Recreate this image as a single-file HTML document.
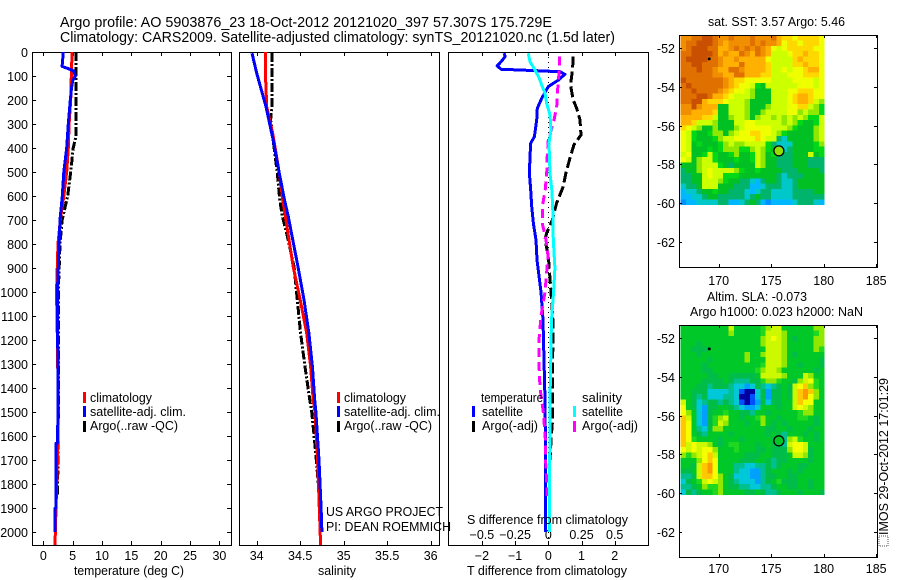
<!DOCTYPE html>
<html lang="en">
<head>
<meta charset="utf-8">
<title>Argo profile chart</title>
<style>
html,body{margin:0;padding:0;background:#fff;}
svg{display:block;}
text{font-family:"Liberation Sans",sans-serif;font-size:12.5px;fill:#000;}
.t{font-size:14.5px;}
</style>
</head>
<body>
<svg id="chart" xmlns="http://www.w3.org/2000/svg" width="900" height="580" viewBox="0 0 900 580">
<rect x="0" y="0" width="900" height="580" fill="#fff"/>
<text class="t" x="60" y="27" textLength="492" lengthAdjust="spacingAndGlyphs">Argo profile: AO 5903876_23 18-Oct-2012 20121020_397 57.307S 175.729E</text>
<text class="t" x="60" y="42" textLength="555" lengthAdjust="spacingAndGlyphs">Climatology: CARS2009. Satellite-adjusted climatology: synTS_20121020.nc (1.5d later)</text>

<g id="marks"></g>

<text x="74" y="575" textLength="110" lengthAdjust="spacingAndGlyphs">temperature (deg C)</text>
<text x="318" y="575" textLength="38" lengthAdjust="spacingAndGlyphs">salinity</text>
<text x="467" y="575" textLength="160" lengthAdjust="spacingAndGlyphs">T difference from climatology</text>
<text x="467" y="524" textLength="161" lengthAdjust="spacingAndGlyphs">S difference from climatology</text>

<text x="90" y="402" textLength="62" lengthAdjust="spacingAndGlyphs">climatology</text>
<text x="90" y="416" textLength="96" lengthAdjust="spacingAndGlyphs">satellite-adj. clim.</text>
<text x="90" y="430" textLength="88" lengthAdjust="spacingAndGlyphs">Argo(..raw -QC)</text>
<text x="344" y="402" textLength="62" lengthAdjust="spacingAndGlyphs">climatology</text>
<text x="344" y="416" textLength="96" lengthAdjust="spacingAndGlyphs">satellite-adj. clim.</text>
<text x="344" y="430" textLength="88" lengthAdjust="spacingAndGlyphs">Argo(..raw -QC)</text>
<text x="481" y="402" textLength="62" lengthAdjust="spacingAndGlyphs">temperature</text>
<text x="482" y="416" textLength="41" lengthAdjust="spacingAndGlyphs">satellite</text>
<text x="482" y="430" textLength="56" lengthAdjust="spacingAndGlyphs">Argo(-adj)</text>
<text x="582" y="402" textLength="40" lengthAdjust="spacingAndGlyphs">salinity</text>
<text x="582" y="416" textLength="41" lengthAdjust="spacingAndGlyphs">satellite</text>
<text x="582" y="430" textLength="56" lengthAdjust="spacingAndGlyphs">Argo(-adj)</text>

<text x="326" y="516" textLength="117" lengthAdjust="spacingAndGlyphs">US ARGO PROJECT</text>
<text x="326" y="531" textLength="125" lengthAdjust="spacingAndGlyphs">PI: DEAN ROEMMICH</text>

<text x="708" y="26" textLength="137" lengthAdjust="spacingAndGlyphs">sat. SST: 3.57 Argo: 5.46</text>
<text x="707" y="301" textLength="100" lengthAdjust="spacingAndGlyphs">Altim. SLA: -0.073</text>
<text x="690" y="316" textLength="173" lengthAdjust="spacingAndGlyphs">Argo h1000: 0.023 h2000: NaN</text>
<text transform="translate(888,535) rotate(-90)" x="0" y="0" textLength="157" lengthAdjust="spacingAndGlyphs">IMOS 29-Oct-2012 17:01:29</text>
<rect x="879" y="536" width="9" height="10" fill="none" stroke="#555" stroke-width="1" stroke-dasharray="1 1"/>
</svg>
<script>
// ---- profile data (depth in metres) ----
const tClimDepth = [0,100,200,300,400,500,600,700,800,1000,1200,1500,1700,1900,2054];
const tClimValue = [4.9,4.77,4.67,4.4,4.26,3.98,3.5,2.9,2.5,2.25,2.4,2.55,2.4,2.16,2.0];
const tSatDepth = [0,50,60,72,80,100,120,150,200,300,400,500,600,700,1000,1400,1500,1630,1631,1900,1901,2000];
const tSatValue = [3.4,3.24,3.2,4.55,5.2,5.46,5.0,4.8,4.6,4.26,3.98,3.5,3.24,2.85,2.4,2.5,2.5,2.4,2.16,2.16,2.0,2.0];
const tArgoDepth = [0,100,200,350,400,500,600,700,800,1000,1500,1700,1850];
const tArgoValue = [5.57,5.57,5.57,5.57,5.1,4.67,4.15,3.2,2.85,2.55,2.55,2.5,2.4];

const sClimDepth = [0,88,228,338,505,617,686,895,1033,1172,1311,1450,1500,1700,1900,2054];
const sClimValue = [34.10,34.10,34.115,34.184,34.26,34.30,34.33,34.42,34.50,34.575,34.62,34.65,34.67,34.70,34.72,34.735];
const sSatDepth = [5,88,228,367,505,617,686,756,895,1033,1172,1311,1450,1500,1700,1900,2000];
const sSatValue = [33.946,34.0,34.107,34.19,34.26,34.32,34.363,34.40,34.475,34.544,34.6,34.64,34.667,34.68,34.716,34.74,34.75];
const sArgoDepth = [5,230,283,505,617,686,756,895,1033,1172,1311,1450,1500,1600,1700,1800,1850];
const sArgoValue = [34.176,34.176,34.16,34.237,34.265,34.295,34.345,34.43,34.467,34.505,34.555,34.61,34.632,34.66,34.685,34.708,34.716];

const dTSatDepth = [5,19,40,58,72,75,82,93,117,144,193,235,283,353,380,436,505,575,644,714,783,867,1000,1117,1450,1700,2000];
const dTSatValue = [-1.33,-1.30,-1.42,-1.54,-1.42,-0.85,0.35,0.50,0.30,0,-0.20,-0.33,-0.35,-0.42,-0.53,-0.55,-0.57,-0.53,-0.50,-0.45,-0.37,-0.34,-0.22,-0.16,-0.10,-0.08,-0.08];
const dTArgoDepth = [19,75,137,200,235,283,346,387,443,505,561,630,700,755,783,850,1000,1120,1400,1530,1620,1700];
const dTArgoValue = [0.75,0.73,0.67,0.75,0.855,0.955,0.985,0.77,0.65,0.53,0.45,0.25,0.12,-0.05,-0.10,0.0,0.08,0.14,0.13,0.13,0.08,0.05];
const dSSatDepth = [5,40,75,110,137,172,214,262,325,380,505,575,644,783,900,1000,1117,1450,2000];
const dSSatValue = [-0.151,-0.138,-0.10,-0.068,-0.05,-0.025,-0.012,0.013,0.02,0.005,0.013,0.026,0.033,0.038,0.05,0.04,0.024,0.013,0.008];
const dSArgoDepth = [19,75,158,228,297,367,436,505,575,644,714,783,850,1000,1100,1200,1300,1400,1500,1554,1617,1700,1800,1850];
const dSArgoValue = [0.083,0.083,0.07,0.063,0.038,0,-0.008,-0.012,-0.023,-0.045,-0.045,-0.017,-0.002,-0.025,-0.055,-0.07,-0.07,-0.0625,-0.038,-0.03,-0.022,-0.02,-0.012,-0.008];

// ---- tick labels ----
const depthTicks = [0,100,200,300,400,500,600,700,800,900,1000,1100,1200,1300,1400,1500,1600,1700,1800,1900,2000];
const tempTicks = [0,5,10,15,20,25,30];
const salTicks = [34,34.5,35,35.5,36];
const dTempTicks = [-2,-1,0,1,2];
const dSalTicks = [-0.5,-0.25,0,0.25,0.5];
const lonTicks = [170,175,180,185];
const latTicks = [-52,-54,-56,-58,-60,-62];

// ---- map data: one letter per cell (index into the palette) ----
const argoLon = 175.729;
const argoLat = -57.307;
const markerLon = 169.1;
const markerLat = -52.55;
const sstPalette = ['#0090ff','#00b8ff','#00c8c8','#00b46c','#00c024','#00d818','#90e800','#ccff00','#f0ff00','#ffd800','#ffb000','#f09000','#e07000','#c85000'];
const slaPalette = ['#0000a0','#0050ff','#00a0ff','#00c8d8','#00c090','#00bc48','#00c828','#20d820','#90e800','#ccf800','#f4ff00','#ffc800','#ff9800'];
const sstRows = [
"llmmnnmll|mlllmlllm|kjjijjjji",
"lmmnnnmlk|llllmlmll|kijjijjji",
"lmnnnmmkk|lmlmlmlki|hijjjjjii",
"mmnnnnmkl|kkmlkmlkh|hhijjkjji",
"mnnnnmmlk|klkkkkkih|hhhjkjjji",
"mmnnmmmlk|kkmkkkkjh|hhhjjkjji",
"mmmnmmlkk|mmlkkkkjh|hihiijkki",
"mmmmmmllk|kmmkkkjjh|hhiiijjji",
"nmmmmmmml|kjjiiiiih|hhhiiiihi",
"mnmmmmmml|kjiihfehh|hhhhiiihi",
"mmnmmmmlk|jiihgeeeh|hhiijjjii",
"mmmnnmkkj|ihhhgeeeh|hhijkkjii",
"mmnnkjjji|hhhgeeeeh|hhijkkjhg",
"llnlkkkee|hhhgeeegh|hhiijjhgf",
"llkkkkjee|hhhgeeghh|hhiighggf",
"kkkkjjhee|ghhgeghhg|hghghgffh",
"kkjhhhgee|ehhiihhhh|hghgfeefh",
"jihgeegee|eghiiiiih|hhgfeeegh",
"ihfeefgge|ghiijjiih|gfeeeeegh",
"ihfeeefgh|hiiiijihh|dceeeeegh",
"ihefeeefg|hgghhhhfd|ccceeeefg",
"iheeefefg|ggffghgfe|dcdeeeeff",
"hieefhfee|fgeefhgef|dddeeehef",
"iheghhfee|efeefhgee|dddeeeddd",
"eeeghhhfe|deeeehgee|dddeeeddd",
"deeghihhh|hgfeefeee|edddeeeed",
"ddeehihhf|ffeeeeeee|dcdddeeee",
"ddeehhhgf|eeddcbdee|dccdeeeee",
"cddehhhee|edddbbcdd|dccdeeeee",
"bccdeefee|dddcbcddc|cccddddee",
"bbccdeedd|dddcdeddc|cccdddddd",
"abbccccdd|bbcdedbab|bbbcdddcb"];
const slaRows = [
"ggggggggg|jggggghij|jggggggii",
"ggggggggg|iggggghjj|jiggggghi",
"ggggggggg|ggggggijk|jigfgggii",
"gggfggggg|ggggggijj|jigggggii",
"ggfffgggg|gggggggjj|jigggggih",
"gggfggggg|gggiggijj|jigfggggg",
"gggggfggg|gggigggjj|jiggggggf",
"ggggfgggg|gggggghjj|jiggfgggf",
"ggggffggg|ggggghijj|iggggggfg",
"gggggffgg|fffffgjjj|jigggjigg",
"ggggffffg|feeeffhii|hggfijkhg",
"gggffefff|eddcdfede|fgfjklihg",
"ggfffdddd|edbaadfcf|fgfjlmlig",
"ggfefddde|edaabdfcf|fgfjlmkig",
"jgfdeffef|edbabcfdf|fggjlkkgg",
"kgfdcffgg|fedccdggg|fggjkjigg",
"kigdcfggh|ggffeggfg|gggghiigg",
"ljgdcfhij|ggfgghigg|fggghhgfg",
"lkgdcfhji|gggfggigf|gfgggggfg",
"lkgedfiig|gggggggff|ggfgggfgg",
"lkgfegggg|fggggggfg|fegggfgfg",
"lkhggggfg|ggfgggggf|feijhggfg",
"ljkjjigfg|hhgggfggf|fejkkjggg",
"kjkjkkigg|ghgggffgf|ffikkjfgg",
"ihijkljgg|gggfffggf|ffgjjifgg",
"gggiklkgg|ggfffggfe|ffggggfgg",
"ggfjlmkgg|geeddeefe|fgggffggg",
"ffgjlmkgg|geddccefg|ggfgfgggg",
"eefjllkig|fdddcceff|ggffggggg",
"dfghjkjig|fedddcefg|hfffggfgg",
"eefgihhig|ffeeddeef|ggffggfgg",
"dfefgghig|gggffgfee|fgggfgggf"];

const NS = 'http://www.w3.org/2000/svg';
const root = document.getElementById('marks');

function shape(tag, attrs, name) {
  const el = document.createElementNS(NS, tag);
  for (const k in attrs) el.setAttribute(k, attrs[k]);
  
  
  root.appendChild(el);
  return el;
}
function label(str, x, y, anchor, name) {
  const el = shape('text', {x: x, y: y, 'text-anchor': anchor}, name);
  el.textContent = str;
  return el;
}

// axis functions
const yDepth = d => 52 + 0.24 * d;
const xTemp = v => 43.3 + 5.87 * v;
const xSal = v => 256.7 + 87 * (v - 34);
const xDT = v => 548.3 + 33.2 * v;
const xDS = v => 548.3 + 132.8 * v;
const xLon = v => 718.7 + 10.5 * (v - 170);
const yLatTop = v => 48.3 + 19.33 * (-52 - v);
const yLatBot = v => 338.3 + 19.33 * (-52 - v);

function frame(x0, y0, x1, y1, name) {
  shape('rect', {x: x0 + 0.5, y: y0 + 0.5, width: x1 - x0, height: y1 - y0, fill: 'none', stroke: '#000', 'stroke-width': 1, 'shape-rendering': 'crispEdges'}, name);
}
function tickLine(x1, y1, x2, y2, name) {
  shape('line', {x1: x1, y1: y1, x2: x2, y2: y2, stroke: '#000', 'stroke-width': 1, 'shape-rendering': 'crispEdges'}, name);
}
function curve(depths, values, xf, color, width, dash, name) {
  const pts = depths.map((d, i) => xf(values[i]).toFixed(1) + ',' + yDepth(d).toFixed(1)).join(' ');
  const attrs = {points: pts, fill: 'none', stroke: color, 'stroke-width': width, 'shape-rendering': 'crispEdges', 'stroke-linejoin': 'round'};
  if (dash) attrs['stroke-dasharray'] = dash;
  shape('polyline', attrs, name);
}
function legendBar(x, y, color, name) {
  shape('rect', {x: x, y: y, width: 3, height: 11, fill: color, 'shape-rendering': 'crispEdges'}, name);
}

// profile panels
const P = [[32, 231], [239, 439], [448, 648]];
const PT = 52, PB = 545;
P.forEach((p, i) => frame(p[0], PT, p[1], PB, 'profile-panel-' + (i + 1) + '-frame'));

depthTicks.forEach(d => {
  const y = Math.round(yDepth(d)) + 0.5;
  label(String(d), 28, y + 4.5, 'end', 'depth-tick-label-' + d);
  tickLine(32, y, 36, y, 'depth-tick-left-' + d);
  tickLine(227, y, 231, y, 'depth-tick-right-' + d);
});
function xTicks(vals, xf, x0name) {
  vals.forEach(v => {
    const x = Math.round(xf(v)) + 0.5;
    tickLine(x, PT, x, PT + 4, x0name + '-tick-top-' + v);
    tickLine(x, PB, x, PB - 4, x0name + '-tick-bottom-' + v);
  });
}
xTicks(tempTicks, xTemp, 'temperature');
tempTicks.forEach(v => label(String(v), xTemp(v), 560, 'middle', 'temperature-tick-label-' + v));
xTicks(salTicks, xSal, 'salinity');
salTicks.forEach(v => label(String(v), xSal(v), 560, 'middle', 'salinity-tick-label-' + v));
xTicks(dTempTicks, xDT, 't-difference');
dTempTicks.forEach(v => label(String(v).replace('-', '\u2212'), xDT(v), 560, 'middle', 't-difference-tick-label-' + v));
dSalTicks.forEach(v => label(String(v).replace('-', '\u2212'), xDS(v), 539, 'middle', 's-difference-tick-label-' + v));

// zero line of difference panel
shape('line', {x1: xDT(0), y1: PT, x2: xDT(0), y2: PB, stroke: '#000', 'stroke-width': 1, 'stroke-dasharray': '1 4', 'shape-rendering': 'crispEdges'}, 'zero-difference-line');

// temperature curves
curve(tArgoDepth, tArgoValue, xTemp, '#000', 3, '9 2 2 2', 'temperature-argo-line');
curve(tClimDepth, tClimValue, xTemp, '#ff0000', 3, null, 'temperature-climatology-line');
curve(tSatDepth, tSatValue, xTemp, '#0000ff', 3, null, 'temperature-satellite-line');
// salinity curves
curve(sArgoDepth, sArgoValue, xSal, '#000', 3, '9 2 2 2', 'salinity-argo-line');
curve(sClimDepth, sClimValue, xSal, '#ff0000', 3, null, 'salinity-climatology-line');
curve(sSatDepth, sSatValue, xSal, '#0000ff', 3, null, 'salinity-satellite-line');
// difference curves
curve(dTArgoDepth, dTArgoValue, xDT, '#000', 3, '11 4', 't-difference-argo-line');
curve(dTSatDepth, dTSatValue, xDT, '#0000ff', 3, null, 't-difference-satellite-line');
curve(dSArgoDepth, dSArgoValue, xDS, '#ff00ff', 3, '9 5', 's-difference-argo-line');
curve(dSSatDepth, dSSatValue, xDS, '#00ffff', 3, null, 's-difference-satellite-line');

// legends
legendBar(83, 392, '#ff0000', 'legend-t-climatology-swatch');
legendBar(83, 406, '#0000ff', 'legend-t-satellite-swatch');
legendBar(83, 421, '#000', 'legend-t-argo-swatch');
legendBar(337, 392, '#ff0000', 'legend-s-climatology-swatch');
legendBar(337, 406, '#0000ff', 'legend-s-satellite-swatch');
legendBar(337, 421, '#000', 'legend-s-argo-swatch');
legendBar(472, 406, '#0000ff', 'legend-diff-t-satellite-swatch');
legendBar(472, 421, '#000', 'legend-diff-t-argo-swatch');
legendBar(573, 406, '#00ffff', 'legend-diff-s-satellite-swatch');
legendBar(573, 421, '#ff00ff', 'legend-diff-s-argo-swatch');

// maps
function drawMap(rows, palette, yLat, top, bottom, name, markerFill, labelY) {
  const lon0 = 166.38, dLon = 0.506, lat0 = -51.33, dLat = 0.274;
  rows.forEach((row, r) => {
    const cells = row.replace(/\|/g, '');
    for (let c = 0; c < cells.length; c++) {
      const x = xLon(lon0 + c * dLon), y = yLat(lat0 - r * dLat);
      shape('rect', {
        x: x.toFixed(1), y: y.toFixed(1), width: 5.5, height: 5.5,
        fill: palette[cells.charCodeAt(c) - 97], 'shape-rendering': 'crispEdges'
      }, name + '-cell');
    }
  });
  frame(679, top, 877, bottom, name + '-frame');
  lonTicks.forEach(v => {
    const x = Math.round(xLon(v)) + 0.5;
    tickLine(x, top, x, top + 3, name + '-lon-tick-top-' + v);
    tickLine(x, bottom, x, bottom - 3, name + '-lon-tick-bottom-' + v);
    label(String(v), xLon(v), labelY, 'middle', name + '-lon-label-' + v);
  });
  latTicks.forEach(v => {
    const y = Math.round(yLat(v)) + 0.5;
    tickLine(679, y, 682, y, name + '-lat-tick-left-' + v);
    tickLine(874, y, 877, y, name + '-lat-tick-right-' + v);
    label(String(v), 675, y + 4.5, 'end', name + '-lat-label-' + v);
  });
  shape('circle', {cx: xLon(argoLon), cy: yLat(argoLat), r: 5, fill: markerFill, stroke: '#000', 'stroke-width': 1.3}, name + '-argo-position');
  shape('circle', {cx: xLon(markerLon), cy: yLat(markerLat), r: 1.5, fill: '#000'}, name + '-secondary-marker');
}
drawMap(sstRows, sstPalette, yLatTop, 35, 267, 'sst-map', '#90e000', 285);
drawMap(slaRows, slaPalette, yLatBot, 325, 557, 'sla-map', '#00c828', 573);
</script>
</body>
</html>
